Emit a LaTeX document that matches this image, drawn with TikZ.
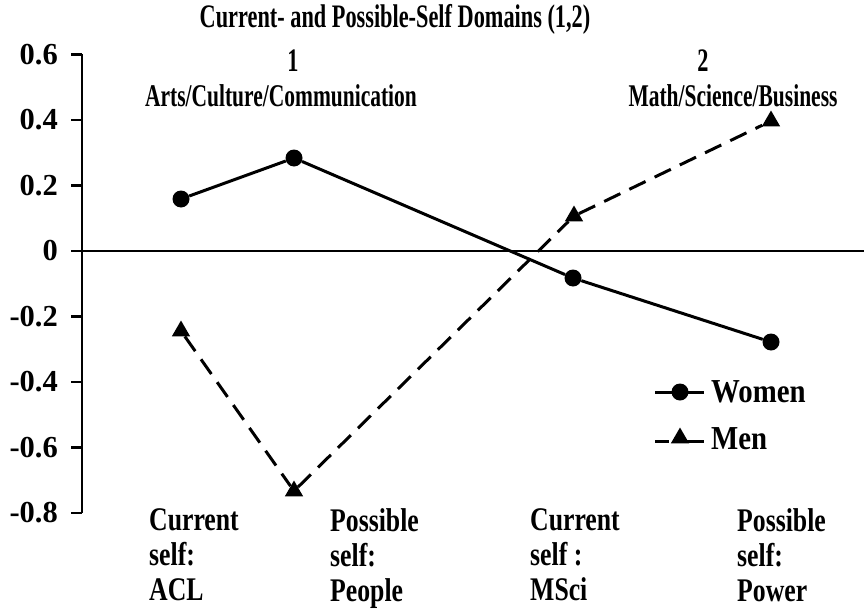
\documentclass[tikz,border=0pt]{standalone}
\usepackage{fontspec}
\setmainfont{Liberation Serif}
\newfontfamily\narrowA{Liberation Serif}[FakeStretch=0.68]
\newfontfamily\narrowB{Liberation Serif}[FakeStretch=0.78]
\newfontfamily\narrowC{Liberation Serif}[FakeStretch=0.86]
\usetikzlibrary{shapes.geometric}
\tikzset{
  x=1pt, y=-1pt,
  axisline/.style={line width=2.6pt},
  zeroline/.style={line width=1.5pt},
  tickline/.style={line width=2.6pt},
  womenline/.style={line width=3pt},
  menline/.style={line width=3pt, dash pattern=on 18pt off 10pt},
  wmark/.style={circle, fill=black, inner sep=0pt, minimum size=17pt},
  mmark/.style={regular polygon, regular polygon sides=3, fill=black, inner sep=0pt, minimum size=21pt},
  ticklab/.style={anchor=east, inner sep=0pt, font=\fontsize{30.5}{32}\selectfont\bfseries},
  titletext/.style={inner sep=0pt, font=\narrowA\fontsize{32.8}{34}\selectfont\bfseries},
  domtext/.style={inner sep=0pt, font=\narrowA\fontsize{31.6}{34}\selectfont\bfseries},
  catlab/.style={anchor=north west, inner sep=0pt, align=left, font=\narrowB\fontsize{33}{35}\selectfont\bfseries},
  legtext/.style={anchor=west, inner sep=0pt, font=\narrowC\fontsize{33.5}{35}\selectfont\bfseries},
}
\begin{document}
\begin{tikzpicture}
\useasboundingbox (0,0) rectangle (864,610);
% axis
\coordinate (axtop) at (82,54.5);
\coordinate (axbot) at (82,513);
\draw[axisline] (axtop) -- (axbot);
% zero line
\coordinate (z0) at (82,251);
\coordinate (z1) at (864,251);
\draw[zeroline] (z0) -- (z1);
% ticks and labels
\foreach \v/\lab [count=\i] in {0.6/0.6,0.4/0.4,0.2/0.2,0/0,-0.2/-0.2,-0.4/-0.4,-0.6/-0.6,-0.8/-0.8}{
  \coordinate (ta\i) at (71,{251-327.5*\v});
  \coordinate (tb\i) at (82,{251-327.5*\v});
  \draw[tickline] (ta\i) -- (tb\i);
  \node[ticklab] (tl\i) at (58,{251-327.5*\v}) {\lab};
}
% titles
\node[titletext] (title) at (395,19) {Current- and Possible-Self Domains (1,2)};
\node[titletext] (one) at (293,61) {1};
\node[titletext] (two) at (703,61) {2};
\node[domtext] (dom1) at (281,96) {Arts/Culture/Communication};
\node[domtext] (dom2) at (733,96) {Math/Science/Business};
% category labels
\node[catlab] (c1) at (149,508) {Current\\self:\\ACL};
\node[catlab] (c2) at (330,508) {Possible\\self:\\People};
\node[catlab] (c3) at (530,508) {Current\\self :\\MSci};
\node[catlab] (c4) at (737,508) {Possible\\self:\\Power};
% data: women
\node[wmark] (w1) at (181,199) {};
\node[wmark] (w2) at (294,158) {};
\node[wmark] (w3) at (573,278) {};
\node[wmark] (w4) at (771,342) {};
\draw[womenline] (w1) -- (w2) -- (w3) -- (w4);
% data: men
\node[mmark] (m1) at (181,331) {};
\node[mmark] (m2) at (294,491) {};
\node[mmark] (m3) at (574,216) {};
\node[mmark] (m4) at (771,121) {};
\draw[menline] (m1) -- (m2) -- (m3) -- (m4);
% legend
\coordinate (lwa) at (655,392);
\coordinate (lwb) at (704,392);
\draw[womenline] (lwa) -- (lwb);
\node[wmark] (lw) at (680,392) {};
\node[legtext] (lwt) at (711,392) {Women};
\coordinate (lma) at (655,441);
\coordinate (lmb) at (704,441);
\draw[menline, dash pattern=on 14pt off 5pt on 30pt] (lma) -- (lmb);
\node[mmark] (lm) at (680,438) {};
\node[legtext] (lmt) at (711,439) {Men};
\end{tikzpicture}
\end{document}
